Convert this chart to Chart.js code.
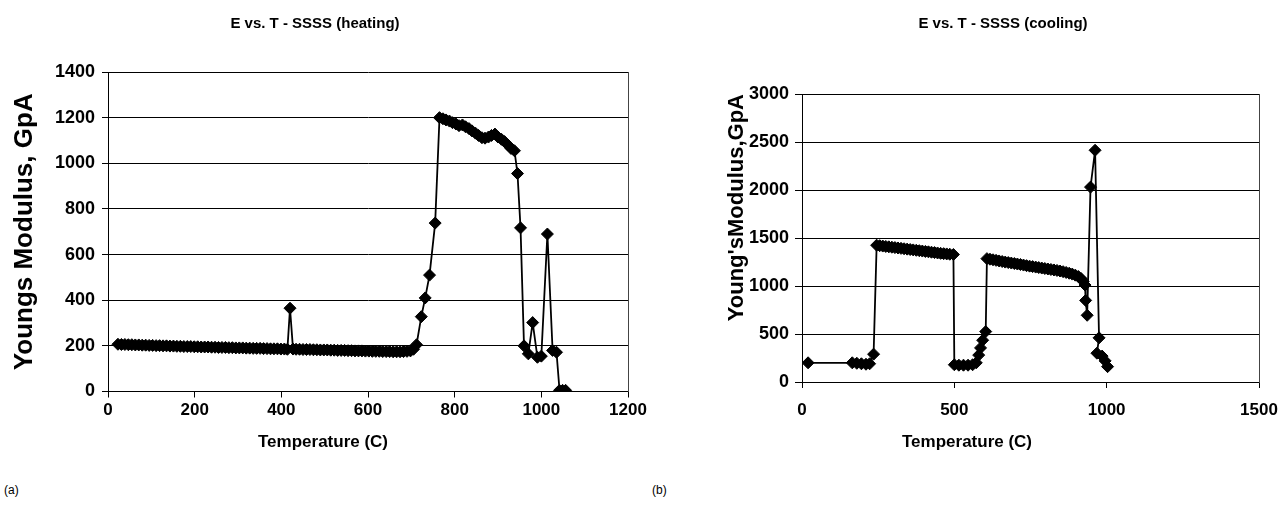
<!DOCTYPE html>
<html>
<head>
<meta charset="utf-8">
<script src="https://cdn.jsdelivr.net/npm/chart.js@4.4.1/dist/chart.umd.min.js"></script>
<style>
  html, body { margin: 0; padding: 0; background: #ffffff; overflow: hidden; }
  body { width: 1287px; height: 508px; position: relative; font-family: "Liberation Sans", Arial, sans-serif; }
  canvas { position: absolute; top: 0; }
  #cLeft { left: -20px; }
  #cRight { left: 719px; }
  .tag { position: absolute; font-size: 12px; color: #000; font-family: "Liberation Sans", Arial, sans-serif; }
</style>
</head>
<body>
<canvas id="cLeft" width="670" height="470"></canvas>
<canvas id="cRight" width="568" height="470"></canvas>
<div class="tag" style="left:4px; top:483px;">(a)</div>
<div class="tag" style="left:652px; top:483px;">(b)</div>
<script>
// ---------- DATA ----------
const heatTitle = "E vs. T - SSSS (heating)";
const coolTitle = "E vs. T - SSSS (cooling)";
const heatYLabel = "Youngs Modulus, GpA";
const coolYLabel = "Young'sModulus,GpA";
const xLabel = "Temperature (C)";

const heatTemp = [
  23, 31, 39, 47, 55, 63, 71, 79, 87, 95,
  103, 111, 119, 127, 135, 143, 151, 159, 167, 175,
  183, 191, 199, 207, 215, 223, 231, 239, 247, 255,
  263, 271, 279, 287, 295, 303, 311, 319, 327, 335,
  343, 351, 359, 367, 375, 383, 391, 399, 407, 414,
  420, 427, 434, 442, 450, 458, 466, 474, 482, 490,
  498, 506, 514, 522, 530, 538, 546, 554, 562, 570,
  578, 586, 594, 602, 610, 618, 626, 634, 642, 650,
  658, 666, 674, 682, 690, 698, 705,
  712, 723, 732, 742, 755,
  765, 773, 780, 788, 795, 803, 810, 818, 825, 833,
  840, 848, 855, 863, 870, 878, 885, 893, 900, 908,
  915, 923, 930, 938,
  945, 952, 960, 970, 980, 991, 1000, 1014, 1026, 1035,
  1042, 1049, 1056];
const heatModulus = [
  207, 206, 206, 205, 205, 204, 204, 203, 203, 202,
  202, 201, 201, 200, 200, 199, 199, 198, 198, 197,
  197, 197, 196, 196, 195, 195, 195, 194, 194, 193,
  193, 193, 192, 192, 191, 191, 191, 190, 190, 189,
  189, 189, 188, 188, 187, 187, 187, 186, 186, 185,
  365, 186, 185, 185, 184, 184, 184, 183, 183, 182,
  182, 182, 181, 181, 180, 180, 180, 179, 179, 178,
  178, 178, 177, 177, 176, 176, 176, 175, 175, 175,
  174, 174, 174, 175, 176, 178, 185,
  205, 328, 410, 510, 738,
  1200, 1195, 1190, 1185, 1178, 1172, 1165, 1168, 1160, 1152,
  1142, 1132, 1122, 1112, 1110, 1115, 1122, 1128, 1115, 1105,
  1095, 1080, 1065, 1055,
  955, 717, 200, 165, 302, 150, 155, 690, 180, 172,
  5, 5, 5];

const coolTemp = [20, 165, 180, 195, 210, 222, 235,
  245, 255, 265, 275, 285, 295, 305, 315, 325, 335, 345, 355, 365, 375, 385, 395, 405, 415, 425, 435, 445,
  455, 465, 475, 485, 497,
  500, 515, 530, 545, 560, 572, 580, 586, 593, 603,
  607, 617, 627, 637, 647, 657, 667, 677, 687, 697, 707, 717, 727, 737, 747, 757, 767, 777, 787, 797,
  807, 817, 827, 837, 847, 857, 867, 877, 887, 897, 907, 916, 923, 929,
  931, 936, 947, 962, 975, 968, 985, 995, 1003];
const coolModulus = [200, 200, 195, 190, 185, 190, 290,
  1425, 1420, 1416, 1412, 1408, 1404, 1400, 1396, 1392, 1388, 1384, 1380, 1376, 1372, 1368, 1364, 1360, 1356, 1352, 1348, 1344,
  1340, 1337, 1334, 1331, 1328,
  180, 175, 175, 175, 180, 200, 280, 355, 435, 525,
  1285, 1279, 1273, 1267, 1261, 1255, 1249, 1244, 1239, 1234, 1229, 1224, 1218, 1212, 1207, 1202, 1197, 1192, 1187, 1182,
  1177, 1172, 1167, 1162, 1156, 1149, 1141, 1133, 1124, 1113, 1099, 1078, 1048, 1010,
  850, 695, 2030, 2414, 460, 300, 270, 220, 160];

const heatXMax = 1200, heatXStep = 200, heatYMax = 1400, heatYStep = 200;
const coolXMax = 1500, coolXStep = 500, coolYMax = 3000, coolYStep = 500;

// ---------- CHARTS ----------
const FONT = "'Liberation Sans', Arial, sans-serif";

// x-axis caption drawn as canvas text, centred where the original places it
const xCaptionPlugin = {
  id: 'xCaption',
  afterDraw(chart, args, opts) {
    const ctx = chart.ctx;
    ctx.save();
    ctx.fillStyle = '#000';
    ctx.font = "bold 17px " + FONT;
    ctx.textAlign = 'center';
    ctx.textBaseline = 'middle';
    ctx.fillText(opts.text, opts.x, opts.y);
    ctx.restore();
  }
};

function makeChart(id, cfg) {
  const pts = cfg.xs.map((x, i) => ({ x: x, y: cfg.ys[i] }));
  return new Chart(document.getElementById(id), {
    type: 'scatter',
    data: {
      datasets: [{
        data: pts,
        showLine: true,
        borderColor: '#000',
        backgroundColor: '#000',
        borderWidth: 1.8,
        pointStyle: 'rectRot',
        pointRadius: 6,
        pointBorderWidth: 1,
        pointBackgroundColor: '#000',
        pointBorderColor: '#000',
        tension: 0
      }]
    },
    options: {
      responsive: false,
      animation: false,
      devicePixelRatio: 1,
      layout: { padding: { left: 0, right: 0, top: 0, bottom: cfg.padBottom } },
      plugins: {
        legend: { display: false },
        tooltip: { enabled: false },
        title: {
          display: true,
          text: cfg.title,
          color: '#000',
          font: { family: FONT, size: 15, weight: 'bold' },
          padding: { top: 15, bottom: cfg.titleBottom }
        },
        xCaption: { text: xLabel, x: cfg.capX, y: 442 }
      },
      scales: {
        x: {
          type: 'linear',
          min: 0, max: cfg.xMax,
          ticks: { stepSize: cfg.xStep, color: '#000', padding: cfg.xTickPad, font: { family: FONT, size: 17, weight: 'bold' }, maxRotation: 0, callback: v => String(v) },
          grid: { drawOnChartArea: false, drawTicks: true, tickLength: 6, color: '#000' },
          border: { display: true, color: '#000', width: 1 },
          title: { display: false, text: xLabel },
          afterFit(s) { s.height = cfg.xAxisH; s.paddingLeft = 0; s.paddingRight = 0; }
        },
        y: {
          type: 'linear',
          position: 'left',
          min: 0, max: cfg.yMax,
          ticks: { stepSize: cfg.yStep, color: '#000', padding: cfg.yTickPad, font: { family: FONT, size: 18, weight: 'bold' }, callback: v => String(v) },
          grid: { color: '#000', lineWidth: 1, drawTicks: true, tickLength: cfg.yTickLen },
          border: { display: true, color: '#000', width: 1 },
          title: { display: true, text: cfg.yLabel, align: cfg.yTitleAlign, color: '#000', font: { family: FONT, size: cfg.yTitleSize, weight: 'bold' }, padding: { top: cfg.yTitleTop, bottom: 0 } },
          afterFit(s) { s.width = cfg.yAxisW; }
        },
        yFrame: {
          type: 'linear',
          position: 'right',
          min: 0, max: cfg.yMax,
          ticks: { display: false },
          grid: { drawOnChartArea: false, drawTicks: false },
          border: { display: true, color: '#444', width: 1, dash: [2, 1] },
          afterFit(s) { s.width = cfg.frameW; }
        }
      }
    },
    plugins: [xCaptionPlugin]
  });
}

makeChart('cLeft', {
  xs: heatTemp, ys: heatModulus, title: heatTitle, yLabel: heatYLabel,
  xMax: heatXMax, xStep: heatXStep, yMax: heatYMax, yStep: heatYStep,
  padBottom: 17.8, titleBottom: 39, frameW: 22,
  xAxisH: 60.7, xTickPad: 3, yAxisW: 128, yTickPad: 7, yTickLen: 6,
  yTitleSize: 26, yTitleTop: 29.4, yTitleAlign: 'center', capX: 343
});

makeChart('cRight', {
  xs: coolTemp, ys: coolModulus, title: coolTitle, yLabel: coolYLabel,
  xMax: coolXMax, xStep: coolXStep, yMax: coolYMax, yStep: coolYStep,
  padBottom: 17.8, titleBottom: 61, frameW: 28,
  xAxisH: 70.2, xTickPad: 12, yAxisW: 83, yTickPad: 6, yTickLen: 7,
  yTitleSize: 22, yTitleTop: 4.8, yTitleAlign: 'end', capX: 248
});
</script>
</body>
</html>
